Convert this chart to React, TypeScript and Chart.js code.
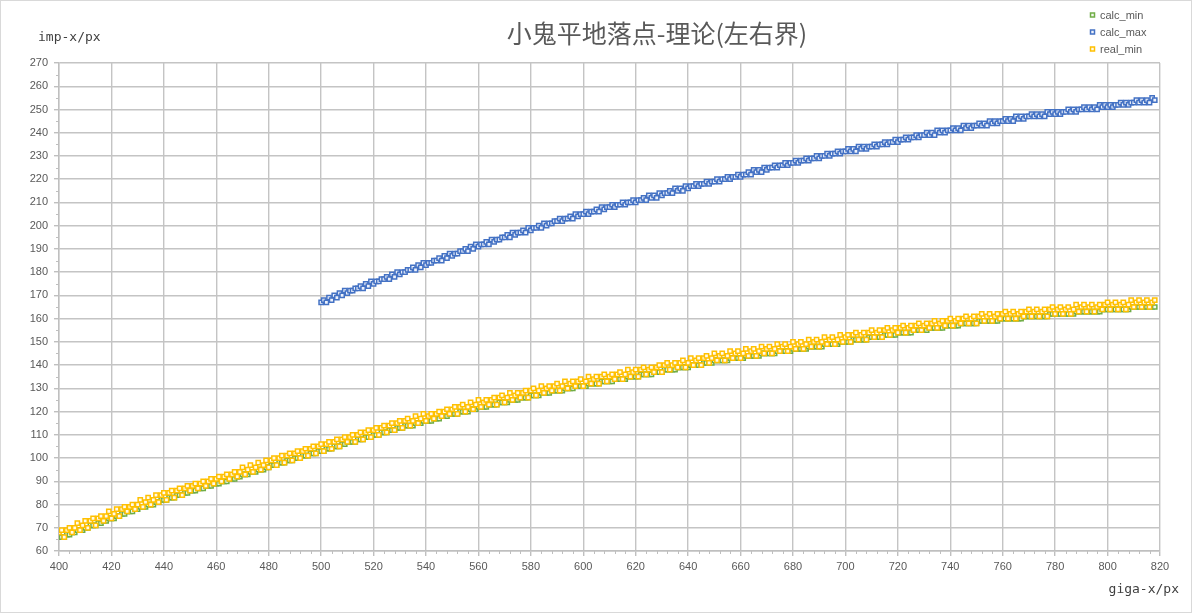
import { useEffect, useRef } from "react";
import { Chart, registerables } from "chart.js";

Chart.register(...registerables);

const TITLE = "小鬼平地落点-理论(左右界)";
const X_TITLE = "giga-x/px";
const Y_TITLE = "imp-x/px";
const SERIES_NAMES = ["calc_min", "calc_max", "real_min"];
const SERIES_COLORS = ["#70AD47", "#4472C4", "#FFC000"];
const SERIES_FILLS = ["#f3f9ef", "#eef2fb", "#fffaea"];

const X_RANGE = [400, 820];
const X_MAJOR = 20;
const X_MINOR = 4;
const Y_RANGE = [60, 270];
const Y_MAJOR = 10;
const Y_MINOR = 5;

// first giga-x of each series (one point per px)
const CALC_MIN_X0 = 400;
const CALC_MAX_X0 = 500;
const REAL_MIN_X0 = 400;

const CALC_MIN = [
  66, 66, 66, 67, 67, 68, 68, 69, 69, 69,
  70, 70, 71, 71, 71, 72, 72, 73, 73, 74,
  74, 74, 75, 75, 76, 76, 77, 77, 77, 78,
  78, 79, 79, 79, 80, 80, 80, 81, 81, 82,
  82, 82, 83, 83, 83, 84, 84, 84, 85, 85,
  86, 86, 86, 87, 87, 87, 88, 88, 88, 89,
  89, 89, 90, 90, 90, 91, 91, 91, 92, 92,
  93, 93, 93, 94, 94, 94, 95, 95, 95, 96,
  96, 97, 97, 97, 98, 98, 98, 99, 99, 99,
  100, 100, 100, 101, 101, 101, 102, 102, 102, 103,
  103, 103, 104, 104, 104, 105, 105, 105, 106, 106,
  107, 107, 107, 107, 108, 108, 108, 109, 109, 109,
  110, 110, 110, 111, 111, 111, 112, 112, 112, 113,
  113, 113, 114, 114, 114, 114, 115, 115, 115, 116,
  116, 116, 116, 117, 117, 117, 118, 118, 118, 119,
  119, 119, 119, 120, 120, 120, 120, 121, 121, 121,
  122, 122, 122, 122, 123, 123, 123, 123, 124, 124,
  124, 124, 125, 125, 125, 125, 126, 126, 126, 126,
  127, 127, 127, 127, 128, 128, 128, 128, 129, 129,
  129, 129, 129, 130, 130, 130, 130, 131, 131, 131,
  131, 131, 132, 132, 132, 132, 132, 133, 133, 133,
  133, 133, 134, 134, 134, 134, 134, 135, 135, 135,
  135, 135, 136, 136, 136, 136, 136, 137, 137, 137,
  137, 138, 138, 138, 138, 138, 139, 139, 139, 139,
  139, 140, 140, 140, 140, 140, 141, 141, 141, 141,
  142, 142, 142, 142, 142, 142, 143, 143, 143, 143,
  143, 143, 144, 144, 144, 144, 144, 144, 145, 145,
  145, 145, 145, 145, 146, 146, 146, 146, 146, 146,
  147, 147, 147, 147, 147, 147, 148, 148, 148, 148,
  148, 148, 149, 149, 149, 149, 149, 149, 150, 150,
  150, 150, 150, 151, 151, 151, 151, 151, 151, 152,
  152, 152, 152, 152, 152, 153, 153, 153, 153, 153,
  154, 154, 154, 154, 154, 154, 155, 155, 155, 155,
  155, 155, 156, 156, 156, 156, 156, 156, 157, 157,
  157, 157, 157, 157, 158, 158, 158, 158, 158, 158,
  158, 159, 159, 159, 159, 159, 159, 159, 159, 160,
  160, 160, 160, 160, 160, 160, 160, 160, 161, 161,
  161, 161, 161, 161, 161, 161, 161, 161, 162, 162,
  162, 162, 162, 162, 162, 162, 162, 162, 163, 163,
  163, 163, 163, 163, 163, 163, 163, 163, 164, 164,
  164, 164, 164, 164, 164, 164, 164, 164, 164, 165,
  165, 165, 165, 165, 165, 165, 165, 165, 165,
];

const CALC_MAX = [
  167, 168, 167, 169, 168, 170, 169, 171, 170, 172,
  171, 172, 172, 173, 173, 174, 173, 175, 174, 176,
  175, 176, 176, 177, 177, 178, 177, 179, 178, 180,
  179, 180, 180, 181, 181, 182, 181, 183, 182, 184,
  183, 184, 184, 185, 185, 186, 185, 187, 186, 188,
  187, 188, 188, 189, 189, 190, 189, 191, 190, 192,
  191, 192, 192, 193, 192, 194, 193, 194, 194, 195,
  195, 196, 195, 197, 196, 197, 197, 198, 197, 199,
  198, 199, 199, 200, 199, 201, 200, 201, 201, 202,
  202, 203, 202, 203, 203, 204, 203, 205, 204, 205,
  205, 206, 205, 206, 206, 207, 206, 208, 207, 208,
  208, 209, 208, 209, 209, 210, 209, 210, 210, 211,
  210, 211, 211, 212, 211, 213, 212, 213, 212, 214,
  213, 214, 214, 215, 214, 216, 215, 216, 215, 217,
  216, 217, 217, 218, 217, 218, 218, 219, 218, 219,
  219, 220, 219, 220, 220, 221, 220, 221, 221, 222,
  221, 222, 222, 223, 222, 224, 223, 224, 223, 225,
  224, 225, 225, 226, 225, 226, 226, 227, 226, 227,
  227, 228, 227, 228, 228, 229, 228, 229, 229, 230,
  229, 230, 230, 231, 230, 231, 231, 232, 231, 232,
  232, 233, 232, 233, 232, 234, 233, 234, 233, 234,
  234, 235, 234, 235, 235, 236, 235, 236, 236, 237,
  236, 237, 237, 238, 237, 238, 238, 239, 238, 239,
  239, 240, 239, 240, 239, 241, 240, 241, 240, 241,
  241, 242, 241, 242, 241, 243, 242, 243, 242, 243,
  243, 244, 243, 244, 243, 245, 244, 245, 244, 245,
  245, 246, 245, 246, 245, 247, 246, 247, 246, 247,
  247, 248, 247, 248, 247, 248, 247, 249, 248, 249,
  248, 249, 248, 249, 249, 250, 249, 250, 249, 250,
  250, 251, 250, 251, 250, 251, 250, 252, 251, 252,
  251, 252, 251, 252, 252, 253, 252, 253, 252, 253,
  253, 254, 253, 254, 253, 254, 253, 255, 254,
];

const REAL_MIN = [
  68, 69, 66, 69, 70, 68, 70, 72, 69, 71,
  73, 70, 73, 74, 71, 74, 75, 73, 75, 77,
  74, 76, 78, 75, 78, 79, 77, 79, 80, 78,
  80, 82, 79, 81, 83, 80, 82, 84, 81, 84,
  85, 82, 85, 86, 83, 86, 87, 84, 87, 88,
  86, 88, 89, 87, 89, 90, 88, 90, 91, 89,
  91, 92, 90, 92, 93, 91, 93, 94, 92, 94,
  96, 93, 95, 97, 94, 96, 98, 95, 97, 99,
  96, 99, 100, 97, 100, 101, 98, 101, 102, 99,
  102, 103, 100, 103, 104, 101, 104, 105, 102, 105,
  106, 103, 106, 107, 104, 107, 108, 105, 108, 109,
  107, 109, 110, 107, 110, 111, 108, 111, 112, 109,
  112, 113, 110, 113, 114, 111, 114, 115, 112, 115,
  116, 113, 116, 117, 114, 116, 118, 115, 117, 119,
  116, 118, 119, 117, 119, 120, 118, 120, 121, 119,
  121, 122, 119, 122, 123, 120, 122, 124, 121, 123,
  125, 122, 124, 125, 123, 125, 126, 123, 126, 127,
  124, 126, 128, 125, 127, 128, 126, 128, 129, 126,
  129, 130, 127, 129, 131, 128, 130, 131, 129, 131,
  132, 129, 131, 133, 130, 132, 133, 131, 133, 134,
  131, 133, 135, 132, 134, 135, 132, 135, 136, 133,
  135, 136, 134, 136, 137, 134, 136, 138, 135, 137,
  138, 135, 138, 139, 136, 138, 139, 137, 139, 140,
  137, 140, 141, 138, 140, 141, 139, 141, 142, 139,
  141, 143, 140, 142, 143, 140, 143, 144, 141, 143,
  145, 142, 144, 145, 142, 144, 146, 143, 145, 146,
  143, 145, 147, 144, 146, 147, 144, 146, 148, 145,
  147, 148, 145, 147, 149, 146, 148, 149, 146, 148,
  150, 147, 149, 150, 147, 149, 151, 148, 150, 151,
  148, 150, 152, 149, 151, 152, 149, 151, 153, 150,
  152, 153, 150, 153, 154, 151, 153, 154, 151, 154,
  155, 152, 154, 155, 152, 155, 156, 153, 155, 156,
  154, 156, 157, 154, 156, 157, 155, 157, 158, 155,
  157, 158, 156, 158, 159, 156, 158, 159, 157, 159,
  160, 157, 159, 160, 158, 160, 161, 158, 160, 161,
  158, 161, 162, 159, 161, 162, 159, 161, 162, 160,
  162, 163, 160, 162, 163, 160, 162, 163, 161, 163,
  164, 161, 163, 164, 161, 163, 164, 161, 164, 165,
  162, 164, 165, 162, 164, 165, 162, 164, 166, 163,
  165, 166, 163, 165, 166, 163, 165, 166, 164, 166,
  167, 164, 166, 167, 164, 166, 167, 164, 166, 168,
  165, 167, 168, 165, 167, 168, 165, 167, 168,
];

const SERIES_VALUES = [CALC_MIN, CALC_MAX, REAL_MIN];
const SERIES_X0 = [CALC_MIN_X0, CALC_MAX_X0, REAL_MIN_X0];
const SERIES_ORDER = [2, 1, 0];

const TEXT_COLOR = "#595959";
const GRID_COLOR = "#c4c4c4";
const TICK_FONT = { family: "'Liberation Sans', Arial, sans-serif", size: 11 };

const decorPlugin = {
  id: "decor",
  beforeDraw(chart: any) {
    const { ctx, width, height } = chart;
    ctx.save();
    ctx.fillStyle = "#ffffff";
    ctx.fillRect(0, 0, width, height);
    ctx.restore();
  },
  afterDraw(chart: any) {
    const { ctx, width, height, chartArea } = chart;
    const xs = chart.scales.x;
    const ys = chart.scales.y;
    ctx.save();
    // frame
    ctx.strokeStyle = "#d9d9d9";
    ctx.lineWidth = 1;
    ctx.strokeRect(0.5, 0.5, width - 1, height - 1);

    // minor ticks
    ctx.strokeStyle = "#bfbfbf";
    ctx.lineWidth = 1;
    ctx.beginPath();
    for (let v = X_RANGE[0]; v <= X_RANGE[1]; v += X_MINOR) {
      if (v % X_MAJOR === 0) continue;
      const px = Math.round(xs.getPixelForValue(v)) + 0.5;
      ctx.moveTo(px, chartArea.bottom);
      ctx.lineTo(px, chartArea.bottom + 3);
    }
    for (let v = Y_RANGE[0]; v <= Y_RANGE[1]; v += Y_MINOR) {
      if (v % Y_MAJOR === 0) continue;
      const py = Math.round(ys.getPixelForValue(v)) + 0.5;
      ctx.moveTo(chartArea.left - 3, py);
      ctx.lineTo(chartArea.left, py);
    }
    ctx.stroke();

    // title
    ctx.fillStyle = TEXT_COLOR;
    ctx.font = "25px 'Noto Sans CJK SC', sans-serif";
    ctx.textAlign = "center";
    ctx.textBaseline = "middle";
    ctx.fillText(TITLE, 657, 33);

    // axis titles
    ctx.fillStyle = "#404040";
    ctx.font = "13px 'DejaVu Sans Mono', monospace";
    ctx.textAlign = "left";
    ctx.fillText(Y_TITLE, 38, 38);
    ctx.textAlign = "right";
    ctx.fillText(X_TITLE, 1179, 590);

    // legend
    ctx.font = "11px 'Liberation Sans', Arial, sans-serif";
    ctx.textAlign = "left";
    SERIES_NAMES.forEach((name, i) => {
      const cy = 15 + i * 17;
      ctx.fillStyle = SERIES_FILLS[i];
      ctx.strokeStyle = SERIES_COLORS[i];
      ctx.lineWidth = 1.5;
      ctx.fillRect(1090.5, cy - 2, 4, 4);
      ctx.strokeRect(1090.5, cy - 2, 4, 4);
      ctx.fillStyle = TEXT_COLOR;
      ctx.fillText(name, 1100, cy + 0.5);
    });
    ctx.restore();
  },
};

export default function App() {
  const ref = useRef<HTMLCanvasElement>(null);
  useEffect(() => {
    document.body.style.margin = "0";
    const canvas = ref.current;
    if (!canvas) return;
    const datasets = SERIES_NAMES.map((name, i) => ({
      label: name,
      data: SERIES_VALUES[i].map((y, k) => ({ x: SERIES_X0[i] + k, y })),
      order: SERIES_ORDER[i],
      showLine: false,
      pointStyle: "rect" as const,
      pointRadius: 3.0,
      pointHoverRadius: 3.0,
      pointBorderWidth: 1.5,
      pointBorderColor: SERIES_COLORS[i],
      pointBackgroundColor: SERIES_FILLS[i],
      borderColor: SERIES_COLORS[i],
      backgroundColor: SERIES_FILLS[i],
    }));
    const chart = new Chart(canvas, {
      type: "scatter",
      data: { datasets },
      options: {
        animation: false,
        responsive: false,
        events: [],
        layout: { padding: { left: 0, right: 32, top: 63, bottom: 0 } },
        plugins: {
          legend: { display: false },
          title: { display: false },
          tooltip: { enabled: false },
        },
        scales: {
          x: {
            type: "linear",
            min: X_RANGE[0],
            max: X_RANGE[1],
            ticks: {
              stepSize: X_MAJOR,
              color: TEXT_COLOR,
              font: TICK_FONT,
              padding: 4,
              maxRotation: 0,
              autoSkip: false,
            },
            grid: {
              color: GRID_COLOR,
              lineWidth: 1.4,
              tickLength: 5,
              tickColor: "#bfbfbf",
            },
            border: { color: "#bfbfbf", width: 1.4 },
            afterFit(scale: any) {
              scale.height = 62;
            },
          },
          y: {
            type: "linear",
            min: Y_RANGE[0],
            max: Y_RANGE[1],
            ticks: {
              stepSize: Y_MAJOR,
              color: TEXT_COLOR,
              font: TICK_FONT,
              padding: 6,
              autoSkip: false,
            },
            grid: {
              color: GRID_COLOR,
              lineWidth: 1.4,
              tickLength: 5,
              tickColor: "#bfbfbf",
            },
            border: { color: "#bfbfbf", width: 1.4 },
            afterFit(scale: any) {
              scale.width = 59;
            },
          },
        },
      },
      plugins: [decorPlugin],
    });
    return () => chart.destroy();
  }, []);
  return (
    <div style={{ position: "absolute", left: 0, top: 0, width: 1192, height: 613 }}>
      <canvas ref={ref} width={1192} height={613} style={{ display: "block", width: 1192, height: 613 }} />
    </div>
  );
}
